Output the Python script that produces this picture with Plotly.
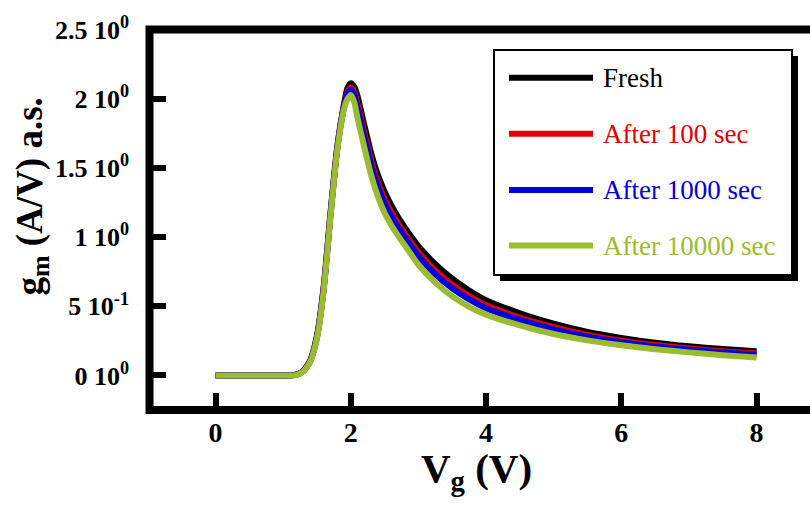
import plotly.graph_objects as go

# Gate voltage sweep (V)
vg = [0, 0.5, 1.0, 1.1, 1.2, 1.3, 1.4, 1.5, 1.6, 1.7, 1.8, 1.9, 1.95, 2.0, 2.05,
      2.1, 2.2, 2.3, 2.4, 2.5, 2.6, 2.7, 2.8, 2.9, 3.0, 3.25, 3.5, 3.75, 4.0,
      4.5, 5.0, 5.5, 6.0, 6.5, 7.0, 7.5, 8.0]

# Transconductance (A/V, arbitrary scale) for each stress time
gm_fresh = [0, 0, 0, 0, 0.008, 0.035, 0.11, 0.29, 0.65, 1.18, 1.66, 1.97, 2.08,
            2.115, 2.09, 2.02, 1.81, 1.61, 1.45, 1.33, 1.23, 1.145, 1.07, 1.0,
            0.935, 0.805, 0.70, 0.615, 0.545, 0.45, 0.375, 0.315, 0.272, 0.237,
            0.211, 0.191, 0.175]
gm_100 = [0, 0, 0, 0, 0.007, 0.033, 0.107, 0.283, 0.64, 1.17, 1.65, 1.955, 2.05,
          2.085, 2.05, 1.965, 1.754, 1.554, 1.396, 1.276, 1.179, 1.098, 1.025,
          0.955, 0.89, 0.758, 0.655, 0.574, 0.508, 0.419, 0.349, 0.294, 0.252,
          0.22, 0.195, 0.175, 0.159]
gm_1000 = [0, 0, 0, 0, 0.006, 0.032, 0.105, 0.279, 0.634, 1.164, 1.644, 1.948,
           2.036, 2.068, 2.03, 1.932, 1.722, 1.522, 1.365, 1.245, 1.15, 1.071,
           0.999, 0.929, 0.864, 0.732, 0.63, 0.55, 0.487, 0.402, 0.334, 0.281,
           0.241, 0.21, 0.186, 0.166, 0.15]
gm_10000 = [0, 0, 0, 0, 0.005, 0.03, 0.10, 0.27, 0.62, 1.15, 1.63, 1.93, 2.00,
            2.03, 1.98, 1.86, 1.65, 1.45, 1.295, 1.175, 1.085, 1.01, 0.94,
            0.87, 0.80, 0.672, 0.572, 0.497, 0.44, 0.362, 0.30, 0.254, 0.218,
            0.19, 0.167, 0.147, 0.13]

series_names = ["Fresh", "After 100 sec", "After 1000 sec", "After 10000 sec"]
series_colors = ["#000000", "#e60000", "#0000dd", "#9bbb30"]
series_values = [gm_fresh, gm_100, gm_1000, gm_10000]

x_ticks = [0, 2, 4, 6, 8]
y_ticks = [0, 0.5, 1, 1.5, 2, 2.5]
y_tick_text = ["0 10<sup>0</sup>", "5 10<sup>-1</sup>", "1 10<sup>0</sup>",
               "1.5 10<sup>0</sup>", "2 10<sup>0</sup>", "2.5 10<sup>0</sup>"]

SERIF = "Liberation Serif"
W, H = 810, 508
ML, MR, MT, MB = 150, 0, 30, 98
PW, PH = W - ML - MR, H - MT - MB


def px_x(p):
    return (p - ML) / PW


def px_y(p):
    return (H - MB - p) / PH


fig = go.Figure()
for name, color, vals in zip(series_names, series_colors, series_values):
    fig.add_trace(go.Scatter(
        x=vg, y=vals, mode="lines", name=name, showlegend=False,
        line=dict(color=color, width=6, shape="spline", smoothing=0.6),
    ))

# open frame: top, left and bottom edges
frame = (f"M 1.05 {px_y(29.5)} L {px_x(149.5)} {px_y(29.5)} "
         f"L {px_x(149.5)} {px_y(410)} L 1.05 {px_y(410)}")
shapes = [
    dict(type="path", xref="paper", yref="paper", path=frame,
         line=dict(color="black", width=8), layer="above"),
    # legend box with drop shadow
    dict(type="rect", xref="paper", yref="paper",
         x0=px_x(500), x1=px_x(798), y0=px_y(281), y1=px_y(56),
         fillcolor="black", line=dict(width=0), layer="above"),
    dict(type="rect", xref="paper", yref="paper",
         x0=px_x(494), x1=px_x(792), y0=px_y(275), y1=px_y(50),
         fillcolor="white", line=dict(color="black", width=2), layer="above"),
]

annotations = [
    dict(text="<b>g<sub>m</sub> (A/V) a.s.</b>", xref="paper", yref="paper",
         x=px_x(6), y=px_y(197), textangle=-90, showarrow=False,
         font=dict(family=SERIF, size=37, color="black")),
    dict(text="<b>V<sub>g</sub> (V)</b>", xref="paper", yref="paper",
         x=px_x(476), y=px_y(499), showarrow=False,
         font=dict(family=SERIF, size=41, color="black")),
]

# legend entries: sample line + coloured label
legend_rows = [77.7, 133.7, 190, 245.5]
for name, color, row in zip(series_names, series_colors, legend_rows):
    shapes.append(dict(type="line", xref="paper", yref="paper",
                       x0=px_x(509), x1=px_x(593), y0=px_y(row), y1=px_y(row),
                       line=dict(color=color, width=6), layer="above"))
    annotations.append(dict(text=name, xref="paper", yref="paper",
                            x=px_x(601), y=px_y(row), xanchor="left",
                            yanchor="middle", showarrow=False,
                            font=dict(family=SERIF, size=27, color=color)))

fig.update_layout(
    width=W, height=H,
    margin=dict(l=ML, r=MR, t=MT, b=MB),
    paper_bgcolor="white", plot_bgcolor="white",
    showlegend=False,
    shapes=shapes,
    annotations=annotations,
)
fig.update_xaxes(
    range=[-0.97, 8.79], showgrid=False, zeroline=False, showline=False,
    tickvals=x_ticks, ticks="inside", ticklen=17, tickwidth=6,
    tickcolor="black", ticklabelstandoff=3,
    tickfont=dict(family=SERIF, size=28, color="black", weight="bold"),
)
fig.update_yaxes(
    range=[-0.25, 2.5], showgrid=False, zeroline=False, showline=False,
    tickvals=y_ticks, ticktext=y_tick_text, ticks="inside", ticklen=16,
    tickwidth=6, tickcolor="black", ticklabelstandoff=20,
    tickfont=dict(family=SERIF, size=26, color="black", weight="bold"),
)

fig.write_html("out.html")
